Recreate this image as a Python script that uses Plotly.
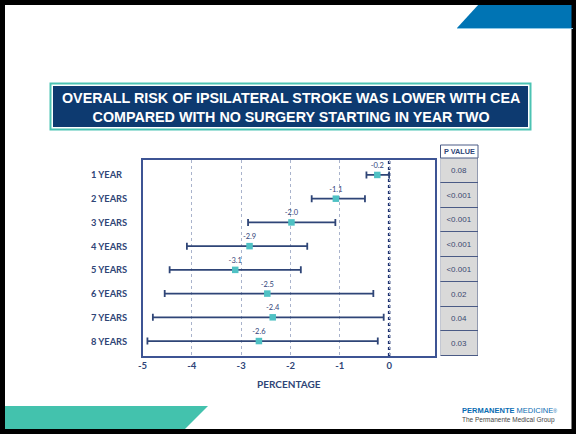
import plotly.graph_objects as go

W, H = 576, 434

# ---------------- data ----------------
categories = ["1 YEAR", "2 YEARS", "3 YEARS", "4 YEARS", "5 YEARS", "6 YEARS", "7 YEARS", "8 YEARS"]
estimates = [-0.24, -1.08, -1.98, -2.83, -3.12, -2.47, -2.36, -2.64]
est_labels = ["-0.2", "-1.1", "-2.0", "-2.9", "-3.1", "-2.5", "-2.4", "-2.6"]
ci_lower = [-0.46, -1.57, -2.86, -4.10, -4.45, -4.55, -4.79, -4.90]
ci_upper = [0.0, -0.49, -1.09, -1.66, -1.79, -0.32, -0.11, -0.23]
p_values = ["0.08", "<0.001", "<0.001", "<0.001", "<0.001", "0.02", "0.04", "0.03"]
x_ticks = [-5, -4, -3, -2, -1, 0]
title_lines = ["OVERALL RISK OF IPSILATERAL STROKE WAS LOWER WITH CEA",
               "COMPARED WITH NO SURGERY STARTING IN YEAR TWO"]
x_title = "PERCENTAGE"
p_header = "P VALUE"
reference_x = 0

# ---------------- style ----------------
NAVY = "#2f4577"
BORDER = "#3d5494"
TEAL = "#4fc1c4"
GRID = "#a9b3cc"
FONT = "Lato"


def px(x):
    return x / W


def py(y):
    return 1 - y / H


rows = list(range(1, len(categories) + 1))

fig = go.Figure()

# forest plot points + CIs
fig.add_trace(go.Scatter(
    x=estimates, y=rows, mode="markers+text",
    text=est_labels, textposition="top center",
    textfont=dict(family=FONT, size=7.5, color="#33457a"),
    marker=dict(symbol="square", size=6.5, color=TEAL),
    error_x=dict(type="data", symmetric=False,
                 array=[u - e for u, e in zip(ci_upper, estimates)],
                 arrayminus=[e - l for e, l in zip(estimates, ci_lower)],
                 color=NAVY, thickness=1.8, width=3.5),
    xaxis="x", yaxis="y", showlegend=False, hoverinfo="skip",
    cliponaxis=False,
))

# p-value table cells
fig.add_trace(go.Bar(
    x=[1] * len(p_values), y=rows, orientation="h", width=1,
    marker=dict(color="#d9d9d9", line=dict(color="#4a5a85", width=1)),
    text=p_values, textposition="inside", insidetextanchor="middle",
    textangle=0, constraintext="none",
    textfont=dict(family="Liberation Sans", size=8, color="#3a4870"),
    xaxis="x2", yaxis="y2", showlegend=False, hoverinfo="skip",
))

shapes = []
# outer black frame
shapes.append(dict(type="rect", xref="paper", yref="paper",
                   x0=px(2.5), x1=px(574), y0=py(431.5), y1=py(2.5),
                   line=dict(color="black", width=5), fillcolor="rgba(0,0,0,0)", layer="above"))
# top-right blue tab
shapes.append(dict(type="path", xref="paper", yref="paper",
                   path=f"M {px(457)} {py(28)} L {px(479)} {py(4)} L {px(573)} {py(4)} L {px(573)} {py(28)} Z",
                   fillcolor="#0074b4", line=dict(width=0), layer="below"))
shapes.append(dict(type="line", xref="paper", yref="paper",
                   x0=px(457), x1=px(573), y0=py(28.5), y1=py(28.5),
                   line=dict(color="#8cc7e6", width=1)))
# bottom-left teal tab
shapes.append(dict(type="path", xref="paper", yref="paper",
                   path=f"M {px(4)} {py(406)} L {px(208)} {py(406)} L {px(183)} {py(431)} L {px(4)} {py(431)} Z",
                   fillcolor="#43c2ad", line=dict(width=0), layer="below"))
# title box
shapes.append(dict(type="rect", xref="paper", yref="paper",
                   x0=px(50.5), x1=px(530.5), y0=py(129.5), y1=py(83.5),
                   line=dict(color="#4cc3b3", width=2), fillcolor="white", layer="below"))
shapes.append(dict(type="rect", xref="paper", yref="paper",
                   x0=px(53), x1=px(528), y0=py(127), y1=py(86),
                   line=dict(width=0), fillcolor="#0d3a70", layer="below"))
# reference line at zero
shapes.append(dict(type="line", xref="x", yref="y domain",
                   x0=reference_x, x1=reference_x, y0=0, y1=1,
                   line=dict(color="#1f3270", width=2.5, dash="dot"), layer="below"))
# p-value header box
shapes.append(dict(type="rect", xref="x2 domain", yref="paper",
                   x0=0, x1=1, y0=py(158), y1=py(145),
                   line=dict(color="#4a5a85", width=1), fillcolor="white"))

annotations = []
# title
annotations.append(dict(xref="paper", yref="paper", x=px(290.5), y=py(107.5),
                        text="<br>".join(title_lines), showarrow=False,
                        xanchor="center", yanchor="middle", align="center",
                        font=dict(family="Liberation Sans", size=14.3, color="white", weight="bold")))
# row labels
for r, c in zip(rows, categories):
    annotations.append(dict(xref="paper", yref="y", x=px(89), y=r, text=c,
                            showarrow=False, xanchor="left", yanchor="middle",
                            font=dict(family=FONT, size=9.3, color=NAVY, weight="bold")))
# p header text
annotations.append(dict(xref="x2 domain", yref="paper", x=0.5, y=py(151.5), text=p_header,
                        showarrow=False, xanchor="center", yanchor="middle",
                        font=dict(family="Liberation Sans", size=7.3, color=NAVY, weight="bold")))
# logo
annotations.append(dict(xref="paper", yref="paper", x=px(460), y=py(410.5),
                        text="<b>PERMANENTE</b> MEDICINE<span style='font-size:5px'>®</span>",
                        showarrow=False, xanchor="left", yanchor="middle",
                        font=dict(family="Liberation Sans", size=7.5, color="#0a6db3")))
annotations.append(dict(xref="paper", yref="paper", x=px(460), y=py(419.5),
                        text="The Permanente Medical Group",
                        showarrow=False, xanchor="left", yanchor="middle",
                        font=dict(family="Liberation Sans", size=6.5, color="#444444")))

fig.update_layout(
    width=W, height=H,
    margin=dict(l=0, r=0, t=0, b=0, autoexpand=False),
    paper_bgcolor="white", plot_bgcolor="white",
    shapes=shapes, annotations=annotations,
    bargap=0,
    xaxis=dict(domain=[px(142.5), px(435)], range=[-5, 0.93], anchor="y",
               tickvals=x_ticks, ticktext=[str(t) for t in x_ticks],
               showgrid=True, gridcolor=GRID, griddash="dot", gridwidth=1,
               zeroline=False, showline=True, mirror=True, linecolor=BORDER, linewidth=1.5,
               ticks="", tickfont=dict(family=FONT, size=9.5, color=NAVY, weight="bold"),
               title=dict(text=x_title, standoff=11,
                          font=dict(family=FONT, size=10, color=NAVY, weight="bold")),
               fixedrange=True),
    yaxis=dict(domain=[py(356), py(160)], range=[8.63, 0.37], anchor="x",
               showticklabels=False, showgrid=False, zeroline=False,
               showline=True, mirror=True, linecolor=BORDER, linewidth=1.5, ticks="",
               fixedrange=True),
    xaxis2=dict(domain=[px(440.5), px(478)], range=[0, 1], anchor="y2",
                visible=False, fixedrange=True),
    yaxis2=dict(domain=[py(356), py(158)], range=[8.5, 0.5], anchor="x2",
                visible=False, fixedrange=True),
)

fig.write_html(
    "out.html",
    config={"displayModeBar": False},
    post_script="document.body.style.margin='0';document.body.style.overflow='hidden';",
)
